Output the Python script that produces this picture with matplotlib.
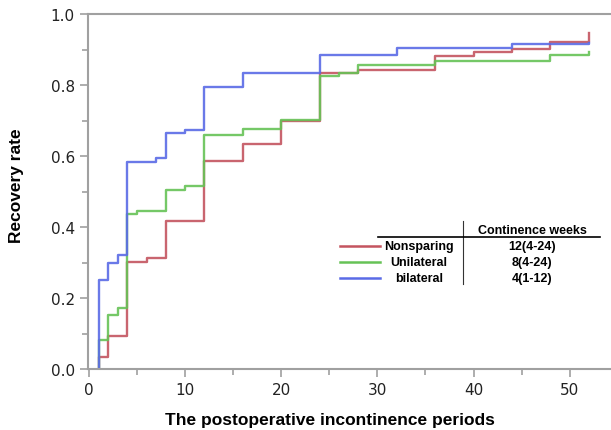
import matplotlib
matplotlib.use('Agg')
import matplotlib.pyplot as plt
from matplotlib.lines import Line2D
from matplotlib.ticker import MultipleLocator

# ── Data ──────────────────────────────────────────────────────────────────────
nonsparing_t = [1, 1, 2, 4, 6, 8, 12, 16, 20, 24, 28, 36, 40, 44, 48, 52]
nonsparing_r = [0, 0.035, 0.094, 0.302, 0.312, 0.416, 0.587, 0.634, 0.700,
                0.834, 0.843, 0.881, 0.892, 0.901, 0.920, 0.946]

unilateral_t = [1, 1, 2, 3, 4, 5, 8, 10, 12, 16, 20, 24, 26, 28, 36, 48, 52]
unilateral_r = [0, 0.083, 0.152, 0.171, 0.438, 0.446, 0.505, 0.515, 0.659,
                0.676, 0.701, 0.824, 0.834, 0.857, 0.869, 0.885, 0.892]

bilateral_t = [1, 1, 2, 3, 4, 7, 8, 10, 12, 16, 24, 32, 44, 52]
bilateral_r = [0, 0.250, 0.300, 0.321, 0.583, 0.593, 0.664, 0.673, 0.795,
               0.834, 0.885, 0.903, 0.915, 0.917]

groups = ['Nonsparing', 'Unilateral', 'bilateral']
weeks = ['12(4-24)', '8(4-24)', '4(1-12)']
colors = ['#c4545f', '#66c256', '#5a6be6']

W, H = 611, 431
fig = plt.figure(figsize=(W / 100, H / 100), dpi=100)
ax = fig.add_axes([88 / W, (H - 370) / H, (W - 88) / W, (370 - 15) / H])

series = [(nonsparing_t, nonsparing_r), (unilateral_t, unilateral_r),
          (bilateral_t, bilateral_r)]
for (t, r), c in zip(series, colors):
    ax.plot(t, r, drawstyle='steps-post', color=c, lw=1.7, alpha=0.9)

ax.set_xlim(-0.1, 54.3)
ax.set_ylim(0, 1.0)
ax.xaxis.set_major_locator(MultipleLocator(10))
ax.xaxis.set_minor_locator(MultipleLocator(5))
ax.yaxis.set_major_locator(MultipleLocator(0.2))
ax.yaxis.set_minor_locator(MultipleLocator(0.1))
ax.yaxis.set_major_formatter(matplotlib.ticker.FormatStrFormatter('%.1f'))

spine_c = '#a0a0a0'
for s in ax.spines.values():
    s.set_color(spine_c)
    s.set_linewidth(1.5)
ax.spines['right'].set_visible(False)
ax.tick_params(which='both', direction='out', color=spine_c, width=1.2,
               labelsize=11, labelcolor='#222222')
ax.tick_params(which='major', length=6)
ax.tick_params(which='minor', length=4)

lab_font = dict(family='Liberation Sans', fontweight='bold', fontsize=12.5)
fig.text(17 / W, 1 - 186 / H, 'Recovery rate', rotation=90,
         ha='center', va='center', **lab_font)
fig.text(330 / W, 1 - 421 / H, 'The postoperative incontinence periods',
         ha='center', va='center', **lab_font)

# ── Table-style legend ────────────────────────────────────────────────────────
def fx(px):
    return px / W

def fy(py):
    return 1 - py / H

tab_font = dict(family='Liberation Sans', fontweight='bold', fontsize=9)
fig.add_artist(Line2D([fx(463), fx(463)], [fy(222), fy(285)],
                      color='#333333', lw=0.8))
fig.add_artist(Line2D([fx(378), fx(600)], [fy(238), fy(238)],
                      color='black', lw=1.2))
fig.text(fx(532), fy(231), 'Continence weeks', ha='center', va='center',
         **tab_font)
row_y = [247, 263, 279]
for g, wk, c, py in zip(groups, weeks, colors, row_y):
    fig.add_artist(Line2D([fx(340), fx(380)], [fy(py), fy(py)],
                          color=c, lw=1.8))
    fig.text(fx(419), fy(py), g, ha='center', va='center', **tab_font)
    fig.text(fx(532), fy(py), wk, ha='center', va='center', **tab_font)

fig.savefig('out.png', dpi=100)
